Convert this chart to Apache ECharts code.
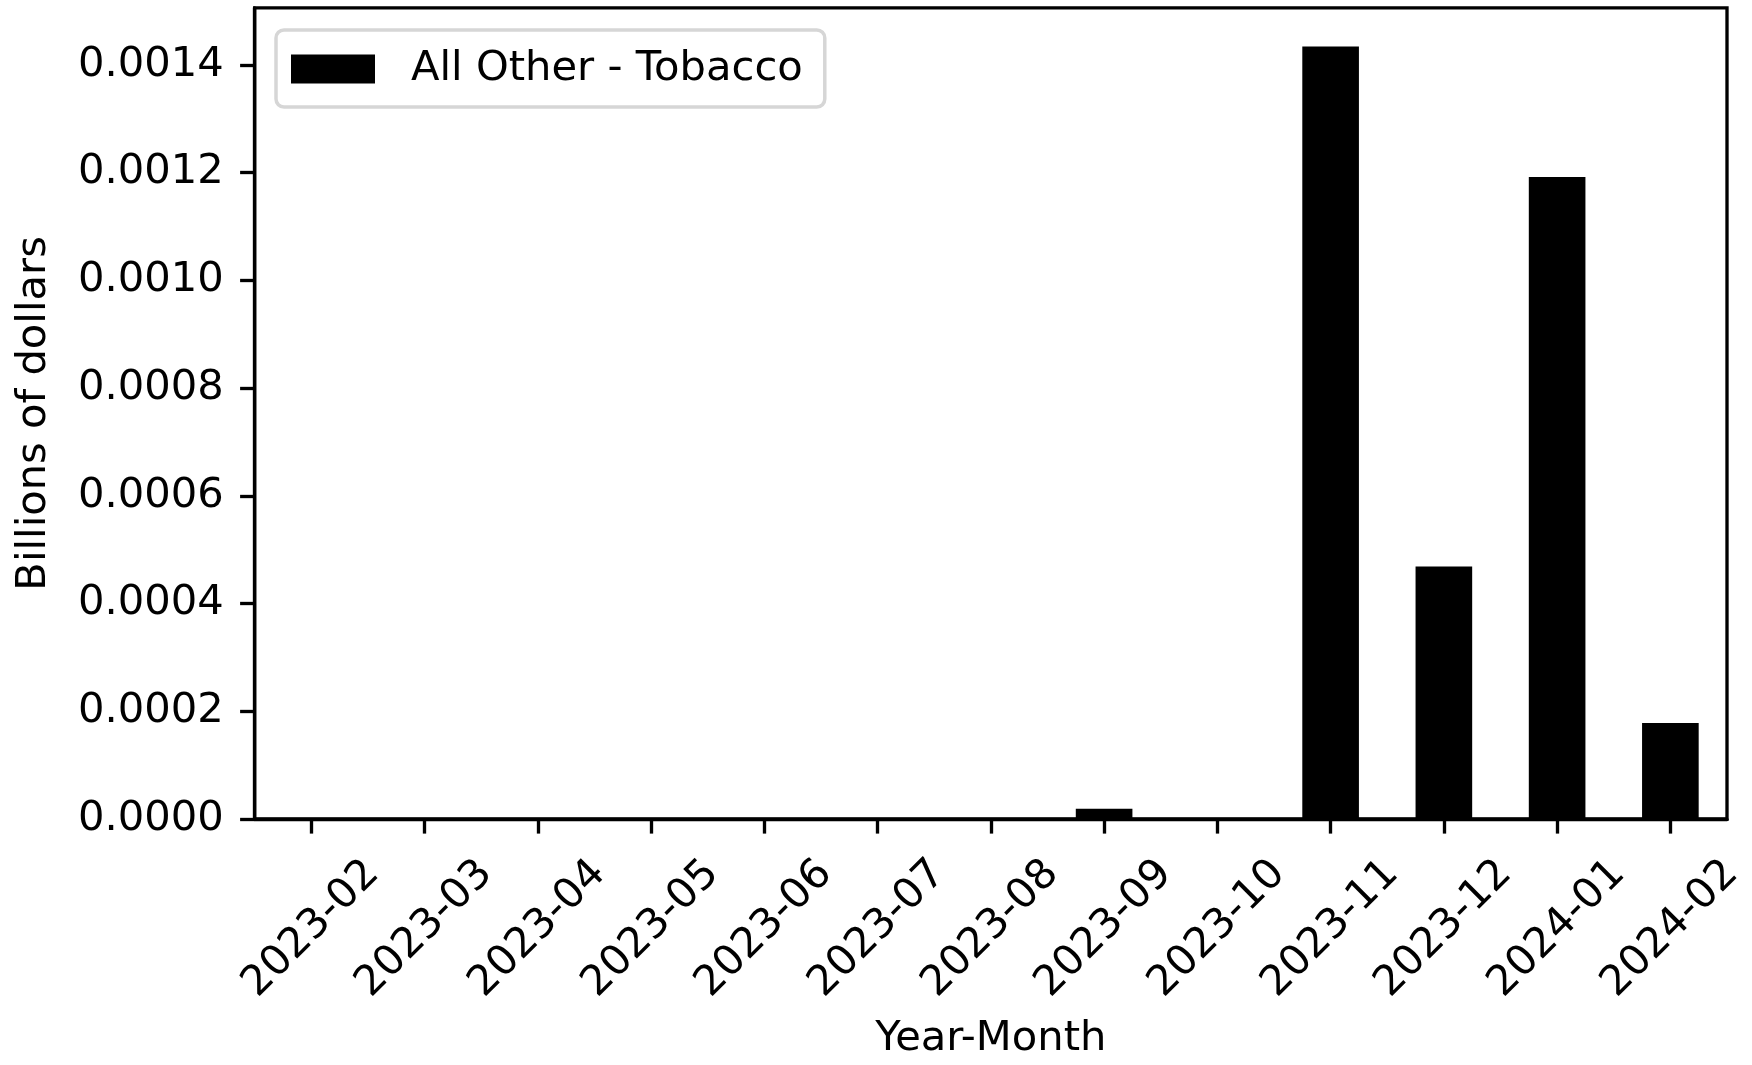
<!DOCTYPE html>
<html>
<head>
<meta charset="utf-8">
<script src="https://cdn.jsdelivr.net/npm/echarts@6/dist/echarts.min.js"></script>
<style>
html,body{margin:0;padding:0;background:#fff;}
#chart{width:1752px;height:1065px;}
</style>
</head>
<body>
<div id="chart"></div>
<script>
const categories = ["2023-02","2023-03","2023-04","2023-05","2023-06","2023-07","2023-08","2023-09","2023-10","2023-11","2023-12","2024-01","2024-02"];
const seriesName = "All Other - Tobacco";
const values = [0, 0, 0, 0, 0, 0, 0, 0.0000192, 0, 0.001434, 0.000469, 0.001192, 0.000178];
const yTicks = [0, 0.0002, 0.0004, 0.0006, 0.0008, 0.0010, 0.0012, 0.0014];
const yMax = 0.001506;

const FONT = 'DejaVu Sans';
const FS = 41.67;
const LW = 3.33;

const chart = echarts.init(document.getElementById('chart'), null, {renderer: 'canvas'});
chart.setOption({
  animation: false,
  backgroundColor: '#ffffff',
  textStyle: {fontFamily: FONT},
  grid: {
    left: 254.7, top: 7.8, right: 25, bottom: 242.3,
    show: true, borderColor: '#000', borderWidth: LW, backgroundColor: 'transparent',
    containLabel: false
  },
  legend: {
    show: true,
    left: 276, top: 30,
    orient: 'horizontal',
    icon: 'rect',
    itemWidth: 84, itemHeight: 29,
    itemGap: 10,
    padding: [18, 22, 17, 15],
    borderColor: '#d6d6d6', borderWidth: 3.5, borderRadius: 8,
    backgroundColor: 'rgba(255,255,255,0.8)',
    textStyle: {fontFamily: FONT, fontSize: FS, color: '#000', padding: [0, 0, 5, 31]},
    data: [seriesName]
  },
  xAxis: {
    type: 'category',
    data: categories,
    boundaryGap: true,
    name: 'Year-Month',
    nameLocation: 'middle',
    nameGap: 199,
    nameTextStyle: {fontFamily: FONT, fontSize: FS, color: '#000', verticalAlign: 'top'},
    axisLine: {show: true, lineStyle: {color: '#000', width: LW}},
    axisTick: {show: true, alignWithLabel: true, length: 14.6, lineStyle: {color: '#000', width: LW}},
    axisLabel: {
      show: true, interval: 0, rotate: 45, margin: 110,
      align: 'center', verticalAlign: 'middle',
      fontFamily: FONT, fontSize: FS, color: '#000'
    },
    splitLine: {show: false}
  },
  yAxis: {
    type: 'value',
    min: 0, max: yMax,
    name: 'Billions of dollars',
    nameLocation: 'middle',
    nameGap: 200,
    nameRotate: 90,
    nameTextStyle: {fontFamily: FONT, fontSize: FS, color: '#000'},
    axisLine: {show: true, lineStyle: {color: '#000', width: LW}},
    axisTick: {show: true, length: 14.6, customValues: yTicks, lineStyle: {color: '#000', width: LW}},
    axisLabel: {
      show: true, margin: 31, customValues: yTicks,
      fontFamily: FONT, fontSize: FS, color: '#000',
      formatter: v => v.toFixed(4)
    },
    splitLine: {show: false}
  },
  series: [{
    name: seriesName,
    type: 'bar',
    data: values,
    barWidth: '50%',
    itemStyle: {color: '#000'}
  }]
});
</script>
</body>
</html>
